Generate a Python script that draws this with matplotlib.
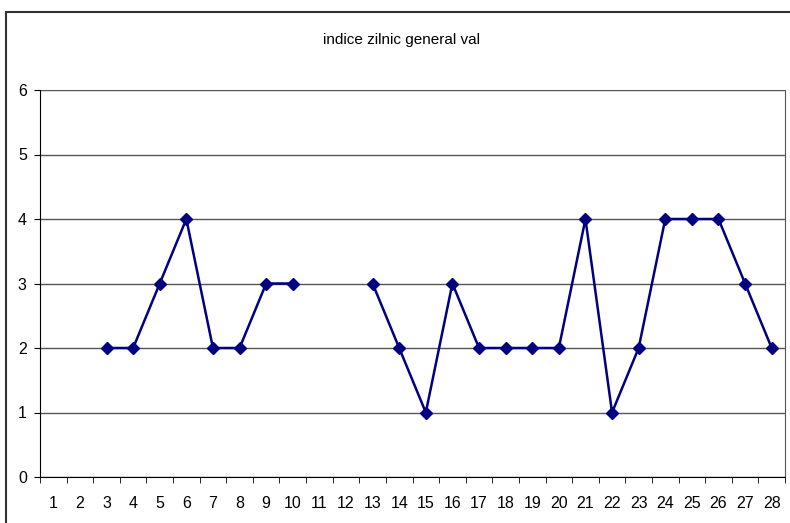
import numpy as np
import matplotlib
matplotlib.use("Agg")
import matplotlib.pyplot as plt
from matplotlib.patches import Rectangle
from matplotlib.ticker import FixedLocator

plt.rcParams['font.family'] = ['Liberation Sans', 'DejaVu Sans']

days = list(range(1, 29))
# nan = no reading that day
values = [np.nan, np.nan, 2, 2, 3, 4, 2, 2, 3, 3, np.nan, np.nan, 3, 2, 1, 3,
          2, 2, 2, 2, 4, 1, 2, 4, 4, 4, 3, 2]
title = "indice zilnic general val"

W, H = 790, 523
fig = plt.figure(figsize=(W / 100, H / 100), dpi=100)
ax = fig.add_axes([40 / W, 1 - 477 / H, 745 / W, 387 / H])

ax.plot(days, values, color='#000080', lw=1.8, marker='D', ms=6.5,
        markerfacecolor='#000080', markeredgecolor='#000080')

ax.set_xlim(0.5, 28.5)
ax.set_ylim(0, 6)
ax.set_yticks(range(0, 7))
ax.set_xticks(days)
ax.tick_params(axis='x', which='major', length=0, pad=14, labelsize=11.5)
ax.xaxis.set_minor_locator(FixedLocator(np.arange(0.5, 29, 1)))
ax.tick_params(axis='x', which='minor', length=4, direction='out', color='black')
ax.tick_params(axis='y', length=4, direction='out', labelsize=11.5, pad=5.5)

ax.grid(axis='y', color='#555555', lw=1)
ax.set_axisbelow(True)
ax.spines['top'].set_visible(False)
ax.spines['right'].set_color('#555555')
ax.spines['left'].set_color('black')
ax.spines['bottom'].set_color('black')

fig.text(401 / W, 1 - 40 / H, title, ha='center', va='center', fontsize=11)

# outer chart frame (cut off at right and bottom)
fig.patches.append(Rectangle((6 / W, -0.05), 1.0, 1 - 12 / H + 0.05,
                             transform=fig.transFigure, fill=False,
                             edgecolor='#333333', lw=1.5, clip_on=False))

fig.savefig('out.png', dpi=100)
